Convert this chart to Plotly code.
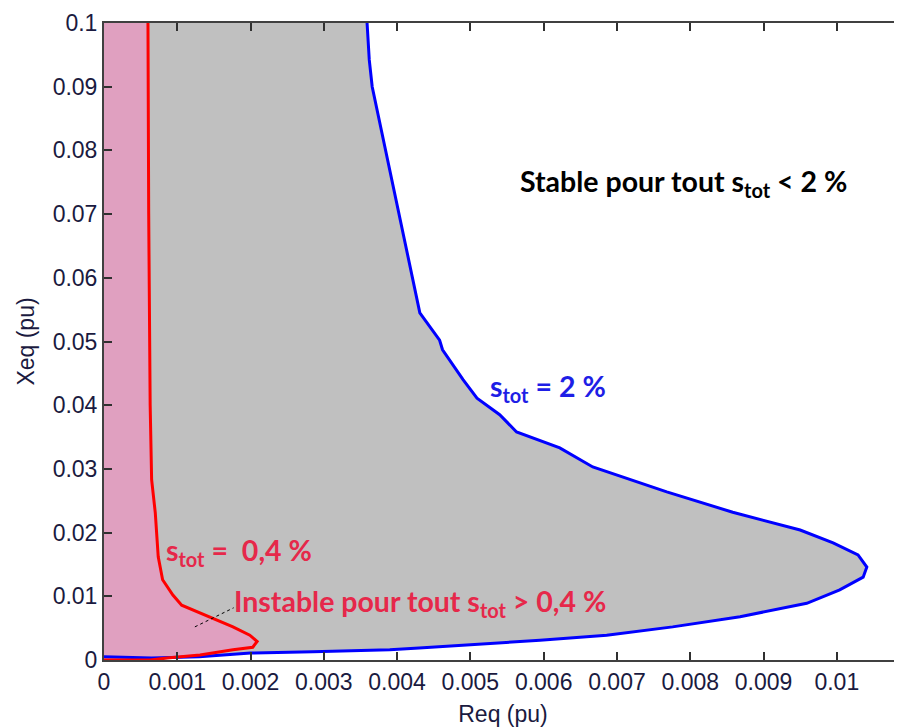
import plotly.graph_objects as go

# s_tot = 2 % stability boundary (Req, Xeq), from bottom-left round the nose to the top
req_2 = [0, 0.00065, 0.0013, 0.002, 0.00285, 0.0039, 0.0043, 0.0050, 0.00595,
         0.00686, 0.00776, 0.00868, 0.00959, 0.01004, 0.01036, 0.01041, 0.01029,
         0.00995, 0.0095, 0.00858, 0.00768, 0.00667, 0.00622, 0.00563, 0.0054,
         0.00509, 0.0049, 0.00462, 0.00458, 0.00431, 0.00366, 0.00362, 0.00359]
xeq_2 = [0.0005, 0.0003, 0.0005, 0.0011, 0.0013, 0.0016, 0.0019, 0.0024, 0.0031,
         0.0039, 0.0052, 0.0068, 0.0089, 0.011, 0.013, 0.0146, 0.0165,
         0.0184, 0.0204, 0.0232, 0.0264, 0.0303, 0.0333, 0.0358, 0.0385,
         0.0411, 0.044, 0.0487, 0.0502, 0.0545, 0.090, 0.0942, 0.1]

# s_tot = 0.4 % stability boundary
req_04 = [0, 0.00063, 0.00086, 0.00131, 0.00176, 0.00203, 0.00209, 0.00199,
          0.00176, 0.00154, 0.00131, 0.00106, 0.00094, 0.0008, 0.00074, 0.0007,
          0.00065, 0.00063, 0.00061, 0.0006]
xeq_04 = [0, 0, 0.0003, 0.0008, 0.0016, 0.002, 0.0029, 0.0039,
          0.0052, 0.0063, 0.0074, 0.0086, 0.0102, 0.0126, 0.0162, 0.0231,
          0.0283, 0.04, 0.07, 0.1]

x_ticks = [0, 0.001, 0.002, 0.003, 0.004, 0.005, 0.006, 0.007, 0.008, 0.009, 0.01]
x_labels = ["0", "0.001", "0.002", "0.003", "0.004", "0.005", "0.006", "0.007",
            "0.008", "0.009", "0.01"]
y_ticks = [0, 0.01, 0.02, 0.03, 0.04, 0.05, 0.06, 0.07, 0.08, 0.09, 0.1]
y_labels = ["0", "0.01", "0.02", "0.03", "0.04", "0.05", "0.06", "0.07", "0.08",
            "0.09", "0.1"]

BLUE = "#0000FF"
RED = "#FF0000"
TXT_RED = "#E6284A"
TXT_BLUE = "#1E1EE6"
AXIS_FONT = dict(family="Liberation Sans, Arial, sans-serif", size=23, color="#1a1a40")
ANN_FONT = "Lato, Calibri, sans-serif"

fig = go.Figure()

# grey region: inside the 2 % boundary
fig.add_trace(go.Scatter(
    x=req_2 + [0], y=xeq_2 + [0.1],
    mode="lines", fill="toself", fillcolor="#C0C0C0",
    line=dict(width=0), hoverinfo="skip", showlegend=False,
))
# pink region: inside the 0.4 % boundary
fig.add_trace(go.Scatter(
    x=req_04 + [0], y=xeq_04 + [0.1],
    mode="lines", fill="toself", fillcolor="#E0A0C0",
    line=dict(width=0), hoverinfo="skip", showlegend=False,
))
fig.add_trace(go.Scatter(
    x=req_2, y=xeq_2, mode="lines",
    line=dict(color=BLUE, width=3), showlegend=False,
))
fig.add_trace(go.Scatter(
    x=req_04, y=xeq_04, mode="lines",
    line=dict(color=RED, width=3), showlegend=False,
))

# small dashed leader from the "Instable" label into the pink zone
fig.add_shape(type="line", x0=0.00124, y0=0.0052, x1=0.00177, y1=0.0082,
              line=dict(color="black", width=1, dash="dot"))

annotations = [
    (0.0057, 0.0749, "Stable pour tout s<sub>tot</sub> < 2 %", "black"),
    (0.0053, 0.0427, "s<sub>tot</sub> = 2 %", TXT_BLUE),
    (0.00087, 0.0170, "s<sub>tot</sub> =  0,4 %", TXT_RED),
    (0.0018, 0.0089, "Instable pour tout s<sub>tot</sub> > 0,4 %", TXT_RED),
]
for ax_x, ax_y, txt, col in annotations:
    fig.add_annotation(
        x=ax_x, y=ax_y, text=f"<b>{txt}</b>", showarrow=False,
        xanchor="left", yanchor="middle", xshift=-4,
        font=dict(family=ANN_FONT, size=28.5, color=col),
    )

# the page body adds an 8 px offset, so margins are trimmed to keep the frame in place
fig.update_layout(
    width=902, height=727,
    margin=dict(l=96, r=8, t=15, b=75),
    plot_bgcolor="white", paper_bgcolor="white",
    xaxis=dict(
        range=[0, 0.01089], tickvals=x_ticks, ticktext=x_labels,
        ticks="inside", ticklen=8, tickwidth=1.5, tickcolor="#303030",
        showline=True, linecolor="#404040", linewidth=2, mirror="ticks",
        showgrid=False, zeroline=False, tickfont=AXIS_FONT, automargin=False,
        title=dict(text="Req (pu)", font=AXIS_FONT, standoff=12),
    ),
    yaxis=dict(
        range=[0, 0.1], tickvals=y_ticks, ticktext=y_labels,
        ticks="inside", ticklen=8, tickwidth=1.5, tickcolor="#303030",
        showline=True, linecolor="#404040", linewidth=2,
        showgrid=False, zeroline=False, tickfont=AXIS_FONT, automargin=False,
        title=dict(text="Xeq (pu)", font=AXIS_FONT, standoff=12),
    ),
)

fig.write_html("out.html")
